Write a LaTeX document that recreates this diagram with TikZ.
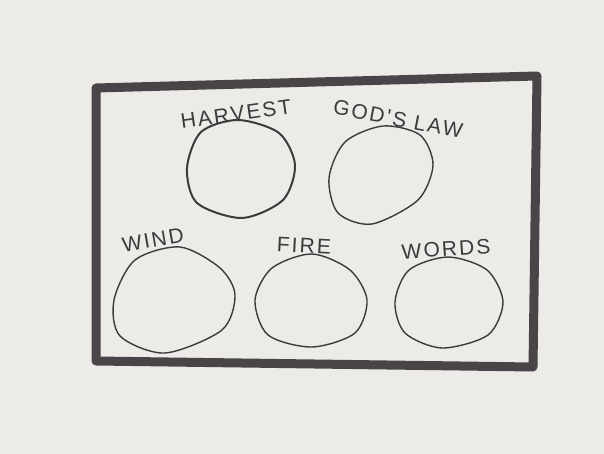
\documentclass[tikz,border=0pt]{standalone}
\usepackage{fontspec}
\newfontfamily\handfont{Liberation Sans}[LetterSpace=10]
\usepackage{tikz}
\usetikzlibrary{positioning}
\definecolor{paper}{RGB}{236,235,231}
\definecolor{ink}{RGB}{72,68,72}
\definecolor{pen}{RGB}{60,58,60}
\tikzset{
  frame/.style={draw=ink,line width=9pt,line join=round},
  blob/.style={draw=pen,line width=1.4pt,line join=round},
  word/.style={text=pen,font=\handfont\fontsize{21}{24}\selectfont,inner sep=0pt}
}
\begin{document}
\begin{tikzpicture}[x=1pt,y=-1pt]
\fill[paper] (0,0) rectangle (604,454);
\useasboundingbox (0,0) rectangle (604,454);
\coordinate (f0) at (96,88);
\coordinate (f1) at (537,76);
\coordinate (f2) at (533,367);
\coordinate (f3) at (96,361);
\draw[frame] (f0)--(f1)--(f2)--(f3)--cycle;
\draw[blob,line width=2pt] plot[smooth cycle] coordinates {(295,165) (279,133) (238,120) (201,132) (187,168) (197,203) (242,218) (283,200)};
\draw[blob] plot[smooth cycle] coordinates {(383,126) (420,135) (433,165) (418,200) (372,224) (338,213) (329,178) (345,142)};
\draw[blob] plot[smooth cycle] coordinates {(180,247) (220,268) (235,295) (222,330) (165,353) (120,336) (114,300) (135,260)};
\draw[blob] plot[smooth cycle] coordinates {(312,254) (350,270) (367,300) (355,333) (312,347) (268,335) (255,300) (272,268)};
\draw[blob] plot[smooth cycle] coordinates {(448,257) (487,270) (503,302) (488,335) (442,348) (405,333) (395,302) (409,270)};
\node[word,rotate=8] (harvest) at (236,114) {HARVEST};
\node[word,rotate=-11] (godslaw) at (398,119) {GOD'S LAW};
\node[word,rotate=10] (wind) at (153,240) {WIND};
\node[word,rotate=-3] (fire) at (304,246) {FIRE};
\node[word,rotate=4] (words) at (446,249) {WORDS};
\end{tikzpicture}
\end{document}
